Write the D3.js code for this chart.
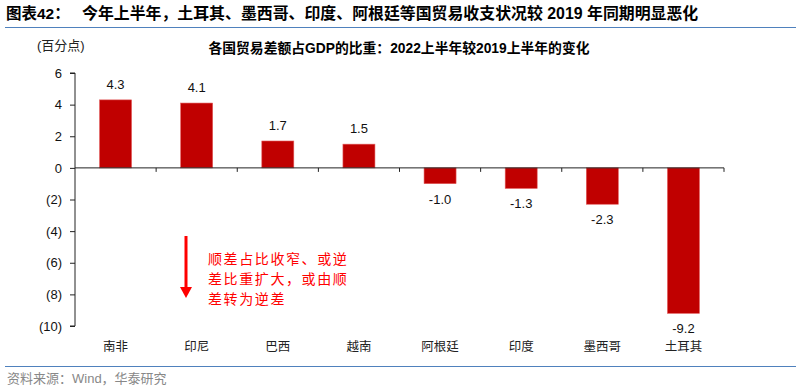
<!DOCTYPE html>
<html>
<head>
<meta charset="utf-8">
<script src="https://cdn.jsdelivr.net/npm/d3@7"></script>
<style>
body { margin: 0; background: #fff; }
text { font-family: "Liberation Sans", Arial, "Noto Sans CJK SC", sans-serif; }
.cjk { font-family: "Liberation Sans", "Noto Sans CJK SC", sans-serif; }
</style>
</head>
<body>
<svg width="801" height="388"></svg>
<script>
var countries = ["南非", "印尼", "巴西", "越南", "阿根廷", "印度", "墨西哥", "土耳其"];
var changes = [4.3, 4.1, 1.7, 1.5, -1.0, -1.3, -2.3, -9.2];
var yTicks = [6, 4, 2, 0, -2, -4, -6, -8, -10];
var noteLines = ["顺差占比收窄、或逆", "差比重扩大，或由顺", "差转为逆差"];

var svg = d3.select("svg");

// header
svg.append("text").attr("x", 6).attr("y", 19)
    .attr("class", "cjk").style("font-size", "15.5px").style("font-weight", "bold")
    .text("图表42：");
svg.append("text").attr("x", 82).attr("y", 19)
    .attr("class", "cjk").style("font-size", "15.9px").style("font-weight", "bold")
    .text("今年上半年，土耳其、墨西哥、印度、阿根廷等国贸易收支状况较 2019 年同期明显恶化");
svg.append("line").attr("x1", 5).attr("x2", 796).attr("y1", 27.5).attr("y2", 27.5)
    .attr("stroke", "#4f81bd").attr("stroke-width", 1);

svg.append("text").attr("x", 399).attr("y", 53).attr("text-anchor", "middle")
    .attr("class", "cjk").style("font-size", "13.8px").style("font-weight", "bold")
    .text("各国贸易差额占GDP的比重：2022上半年较2019上半年的变化");

svg.append("text").attr("x", 37).attr("y", 50)
    .attr("class", "cjk").style("font-size", "13px").attr("fill", "#222")
    .text("(百分点)");

var x = d3.scaleBand().domain(countries).range([75, 724]);
var y = d3.scaleLinear().domain([-10, 6]).range([326, 73]);

// bars
svg.selectAll("rect.bar").data(changes).enter().append("rect")
    .attr("class", "bar")
    .attr("x", function(d, i) { return x(countries[i]) + x.bandwidth() / 2 - 16; })
    .attr("width", 32)
    .attr("y", function(d) { return y(Math.max(0, d)); })
    .attr("height", function(d) { return Math.abs(y(d) - y(0)); })
    .attr("fill", "#c00000")
    .attr("stroke", "#e35d5d").attr("stroke-width", 0.6);

// value labels
svg.selectAll("text.val").data(changes).enter().append("text")
    .attr("class", "val")
    .attr("x", function(d, i) { return x(countries[i]) + x.bandwidth() / 2; })
    .attr("y", function(d) { return d >= 0 ? y(d) - 11 : y(d) + 20; })
    .attr("text-anchor", "middle")
    .style("font-size", "13px").attr("fill", "#111")
    .text(function(d) { return d.toFixed(1); });

// y axis
var yAxis = svg.append("g").attr("transform", "translate(75,0)")
    .call(d3.axisLeft(y).tickValues(yTicks).tickSize(5).tickPadding(8)
        .tickFormat(function(d) { return d < 0 ? "(" + (-d) + ")" : d; }));
yAxis.selectAll("text").style("font-size", "13px").attr("fill", "#111")
    .style("font-family", "'Liberation Sans', Arial, sans-serif");
yAxis.selectAll("line, path").attr("stroke", "#222");
yAxis.select("path").attr("d", "M-5," + y(6) + "H0V" + y(-10) + "H-5");

// x axis along zero
svg.append("line").attr("x1", 75).attr("x2", 724).attr("y1", y(0)).attr("y2", y(0))
    .attr("stroke", "#222");
var bounds = countries.map(function(c) { return x(c) + x.bandwidth(); });
svg.selectAll("line.xt").data(bounds).enter().append("line")
    .attr("class", "xt")
    .attr("x1", function(d) { return d; }).attr("x2", function(d) { return d; })
    .attr("y1", y(0)).attr("y2", y(0) + 4)
    .attr("stroke", "#222");

// category labels
svg.selectAll("text.cat").data(countries).enter().append("text")
    .attr("class", "cjk cat")
    .attr("x", function(d) { return x(d) + x.bandwidth() / 2; })
    .attr("y", 351).attr("text-anchor", "middle")
    .style("font-size", "12.5px").attr("fill", "#222")
    .text(function(d) { return d; });

// annotation
svg.append("line").attr("x1", 186).attr("x2", 186).attr("y1", 236).attr("y2", 288)
    .attr("stroke", "#ff0000").attr("stroke-width", 3);
svg.append("path").attr("d", "M180,287 L192,287 L186,298 Z").attr("fill", "#ff0000");
svg.selectAll("text.note").data(noteLines).enter().append("text")
    .attr("class", "cjk note")
    .attr("x", 208).attr("y", function(d, i) { return 264 + i * 20; })
    .style("font-size", "14px").style("letter-spacing", "1.6px").attr("fill", "#ff0000")
    .text(function(d) { return d; });

// footer
svg.append("line").attr("x1", 5).attr("x2", 796).attr("y1", 366.5).attr("y2", 366.5)
    .attr("stroke", "#4f81bd").attr("stroke-width", 1);
svg.append("text").attr("x", 7).attr("y", 383)
    .attr("class", "cjk").style("font-size", "13px").attr("fill", "#888")
    .text("资料来源：Wind，华泰研究");
</script>
</body>
</html>
